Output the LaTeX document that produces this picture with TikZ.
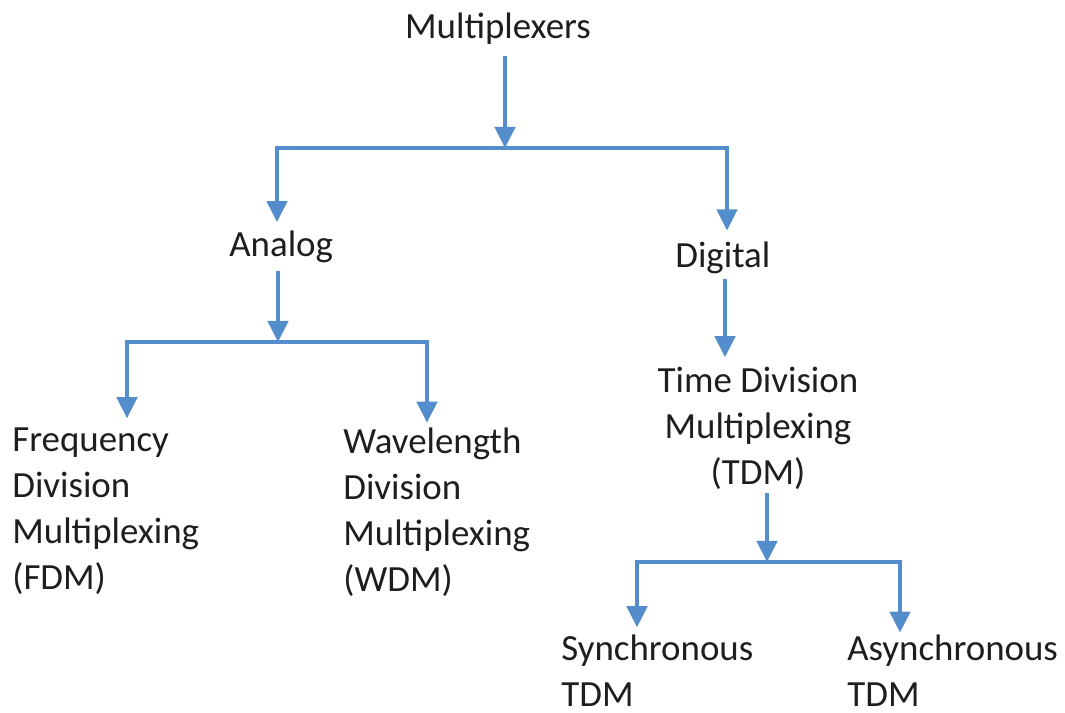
\documentclass[tikz,border=0pt]{standalone}
\usepackage{fontspec}
\setmainfont{Carlito}
\usetikzlibrary{arrows.meta, positioning}
\definecolor{linkblue}{RGB}{84,141,204}
\definecolor{inkgray}{RGB}{30,30,30}

\begin{document}
\begin{tikzpicture}[x=0.02cm, y=-0.02cm,
    txt/.style={text=inkgray, inner sep=0pt, font=\fontsize{21}{26}\selectfont, align=left},
    link/.style={draw=linkblue, line width=2.3pt},
    tip/.style={link, -{Triangle[width=11.5pt, length=12pt]}},
    twotip/.style={link, {Triangle[width=11.5pt, length=12pt]}-{Triangle[width=11.5pt, length=12pt]}}]
    \useasboundingbox (0,0) rectangle (1065,713);

    % Labels (multi-line ones sit on the baseline of their last line)
    \node[txt, anchor=base] (mux) at (498,39) {Multiplexers};
    \node[txt, anchor=base west] (ana) at (229,256) {Analog};
    \node[txt, anchor=base west] (dig) at (675,267) {Digital};
    \node[txt, anchor=base west] (fdm) at (12,589) {Frequency\\Division\\Multiplexing\\(FDM)};
    \node[txt, anchor=base west] (wdm) at (343,591) {Wavelength\\Division\\Multiplexing\\(WDM)};
    \node[txt, anchor=base, align=center] (tdm) at (758,484) {Time Division\\Multiplexing\\(TDM)};
    \node[txt, anchor=base west] (sync) at (561,706) {Synchronous\\TDM};
    \node[txt, anchor=base west] (async) at (847,706) {Asynchronous\\TDM};

    % Split points
    \coordinate (s1) at (505,148);
    \coordinate (s1l) at (277,148);
    \coordinate (s1r) at (727,148);
    \coordinate (s2) at (278,342);
    \coordinate (s2l) at (127,342);
    \coordinate (s2r) at (427,342);
    \coordinate (d1) at (725,300);
    \coordinate (s3) at (767,562);
    \coordinate (s3l) at (637,562);
    \coordinate (s3r) at (900,562);

    % Multiplexers -> Analog / Digital
    \draw[tip, shorten <=6pt] (mux.south -| s1) -- (s1);
    \draw[twotip, shorten <=4.5pt, shorten >=6pt] (s1l |- ana.north) -- (s1l) -- (s1r) -- (s1r |- dig.north);

    % Analog -> FDM / WDM
    \draw[tip, shorten <=5pt] (ana.south -| s2) -- (s2);
    \draw[twotip, shorten <=5.5pt, shorten >=3pt] (s2l |- fdm.north) -- (s2l) -- (s2r) -- (s2r |- wdm.north);

    % Digital -> TDM
    \draw[tip, shorten <=3pt, shorten >=5.5pt] (dig.south -| d1) -- (tdm.north -| d1);

    % TDM -> Synchronous / Asynchronous
    \draw[tip, shorten <=2pt] (tdm.south -| s3) -- (s3);
    \draw[twotip, shorten <=4pt, shorten >=1pt] (s3l |- sync.north) -- (s3l) -- (s3r) -- (s3r |- async.north);
\end{tikzpicture}
\end{document}
